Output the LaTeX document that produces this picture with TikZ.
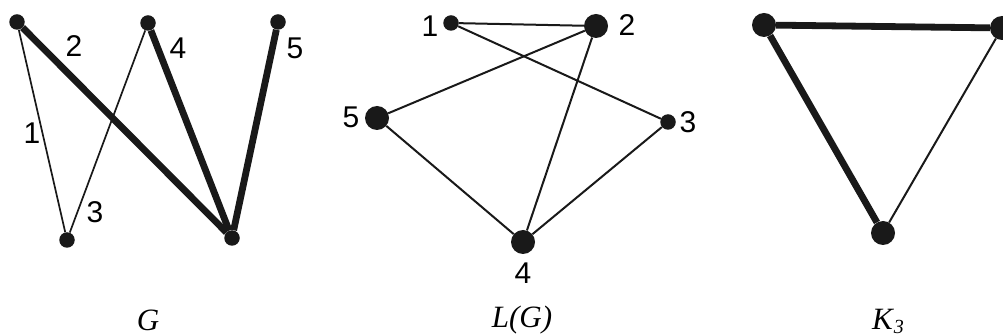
\documentclass[tikz,border=0pt]{standalone}
\usepackage{fontspec}
\setmainfont{Liberation Serif}
\setsansfont{Liberation Sans}
\begin{document}
\begin{tikzpicture}[x=1pt,y=-1pt,
  vsmall/.style={circle,fill=black!90,inner sep=0pt,minimum size=15.5pt},
  vbig/.style={circle,fill=black!90,inner sep=0pt,minimum size=24pt},
  heavy/.style={line width=6.8pt,black!90},
  light/.style={line width=1.7pt,black!90},
  lgedge/.style={line width=2pt,black!90},
  num/.style={font=\sffamily\fontsize{30}{30}\selectfont,inner sep=0pt},
  caption/.style={font=\itshape\fontsize{31}{31}\selectfont,inner sep=0pt}]
\useasboundingbox (0,0) rectangle (1003,336);

% graph G
\node[vsmall] (a) at (17,22) {};
\node[vsmall] (b) at (148,23) {};
\node[vsmall] (c) at (278,22) {};
\node[vsmall] (d) at (67,240) {};
\node[vsmall] (e) at (232,238) {};
\draw[light] (a) -- (d);
\draw[light] (d) -- (b);
\draw[heavy] (a) -- (e);
\draw[heavy] (b) -- (e);
\draw[heavy] (c) -- (e);
\node[num] (g1) at (32,133) {1};
\node[num] (g2) at (74,46) {2};
\node[num] (g3) at (95,212) {3};
\node[num] (g4) at (178,48) {4};
\node[num] (g5) at (295,48) {5};
\node[caption] (capg) at (148,320) {G};

% line graph L(G)
\node[vsmall] (l1) at (451,23) {};
\node[vbig] (l2) at (596,26) {};
\node[vsmall] (l3) at (668,122) {};
\node[vbig] (l4) at (523,242) {};
\node[vbig] (l5) at (377,118) {};
\draw[lgedge] (l1) -- (l2);
\draw[lgedge] (l1) -- (l3);
\draw[lgedge] (l2) -- (l5);
\draw[lgedge] (l2) -- (l4);
\draw[lgedge] (l5) -- (l4);
\draw[lgedge] (l3) -- (l4);
\node[num] (n1) at (430,26) {1};
\node[num] (n2) at (627,25) {2};
\node[num] (n3) at (688,122) {3};
\node[num] (n4) at (523,273) {4};
\node[num] (n5) at (351,117) {5};
\node[caption] (caplg) at (522,320) {L(G)};

% complete graph K3
\node[vbig] (k1) at (764,25) {};
\node[vbig] (k2) at (1002,28) {};
\node[vbig] (k3) at (883,233) {};
\draw[heavy] (k1) -- (k2);
\draw[heavy] (k1) -- (k3);
\draw[lgedge] (k2) -- (k3);
\node[caption,anchor=base west] (capk) at (872,330) {K\kern1pt\raisebox{-3pt}{\fontsize{20}{20}\selectfont 3}};
\end{tikzpicture}
\end{document}
